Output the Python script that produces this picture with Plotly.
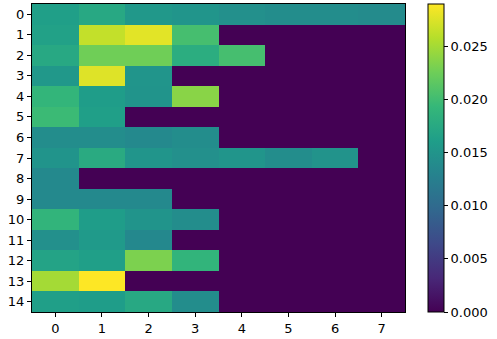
import plotly.graph_objects as go

cols = [0, 1, 2, 3, 4, 5, 6, 7]
rows = list(range(15))

row0 = [0.0163, 0.0174, 0.0154, 0.0151, 0.0145, 0.0142, 0.0142, 0.0139]
row1 = [0.0165, 0.0264, 0.0278, 0.0203, 0, 0, 0, 0]
row2 = [0.0174, 0.0226, 0.0226, 0.0180, 0.0203, 0, 0, 0]
row3 = [0.0154, 0.0276, 0.0151, 0, 0, 0, 0, 0]
row4 = [0.0191, 0.0160, 0.0150, 0.0238, 0, 0, 0, 0]
row5 = [0.0197, 0.0163, 0, 0, 0, 0, 0, 0]
row6 = [0.0142, 0.0141, 0.0137, 0.0141, 0, 0, 0, 0]
row7 = [0.0150, 0.0177, 0.0151, 0.0145, 0.0151, 0.0142, 0.0148, 0]
row8 = [0.0137, 0, 0, 0, 0, 0, 0, 0]
row9 = [0.0137, 0.0137, 0.0137, 0, 0, 0, 0, 0]
row10 = [0.0189, 0.0160, 0.0150, 0.0142, 0, 0, 0, 0]
row11 = [0.0145, 0.0156, 0.0136, 0, 0, 0, 0, 0]
row12 = [0.0168, 0.0163, 0.0232, 0.0189, 0, 0, 0, 0]
row13 = [0.0250, 0.0290, 0, 0, 0, 0, 0, 0]
row14 = [0.0163, 0.0160, 0.0174, 0.0142, 0, 0, 0, 0]

z = [row0, row1, row2, row3, row4, row5, row6, row7,
     row8, row9, row10, row11, row12, row13, row14]

cbar_ticks = [0.0, 0.005, 0.010, 0.015, 0.020, 0.025]

fig = go.Figure(go.Heatmap(
    z=z, x=cols, y=rows,
    colorscale='Viridis', zmin=0, zmax=0.029,
    colorbar=dict(
        thickness=16, len=1, lenmode='fraction', y=0.5, yanchor='middle',
        x=1.061, xanchor='left', xpad=0, ypad=0,
        outlinecolor='black', outlinewidth=1,
        ticks='outside', ticklen=4, tickcolor='black',
        tickvals=cbar_ticks, tickformat='.3f',
        tickfont=dict(family='DejaVu Sans', size=13, color='black'),
    ),
))

axis_common = dict(
    showgrid=False, zeroline=False, showline=True, linecolor='black',
    linewidth=1, mirror=True, ticks='outside', ticklen=4, tickcolor='black',
    tickfont=dict(family='DejaVu Sans', size=13, color='black'),
)

fig.update_layout(
    width=497, height=339,
    margin=dict(l=32, r=92, t=4, b=27, autoexpand=False),
    paper_bgcolor='white', plot_bgcolor='white',
    xaxis=dict(tickvals=cols, range=[-0.5, 7.5], **axis_common),
    yaxis=dict(tickvals=rows, range=[14.5, -0.5], **axis_common),
)

# the page has a default 8px body margin; drop it so the figure fills the window
fig.write_html("out.html", config={'displayModeBar': False},
               post_script="document.body.style.margin='0';document.body.style.overflow='hidden';")
